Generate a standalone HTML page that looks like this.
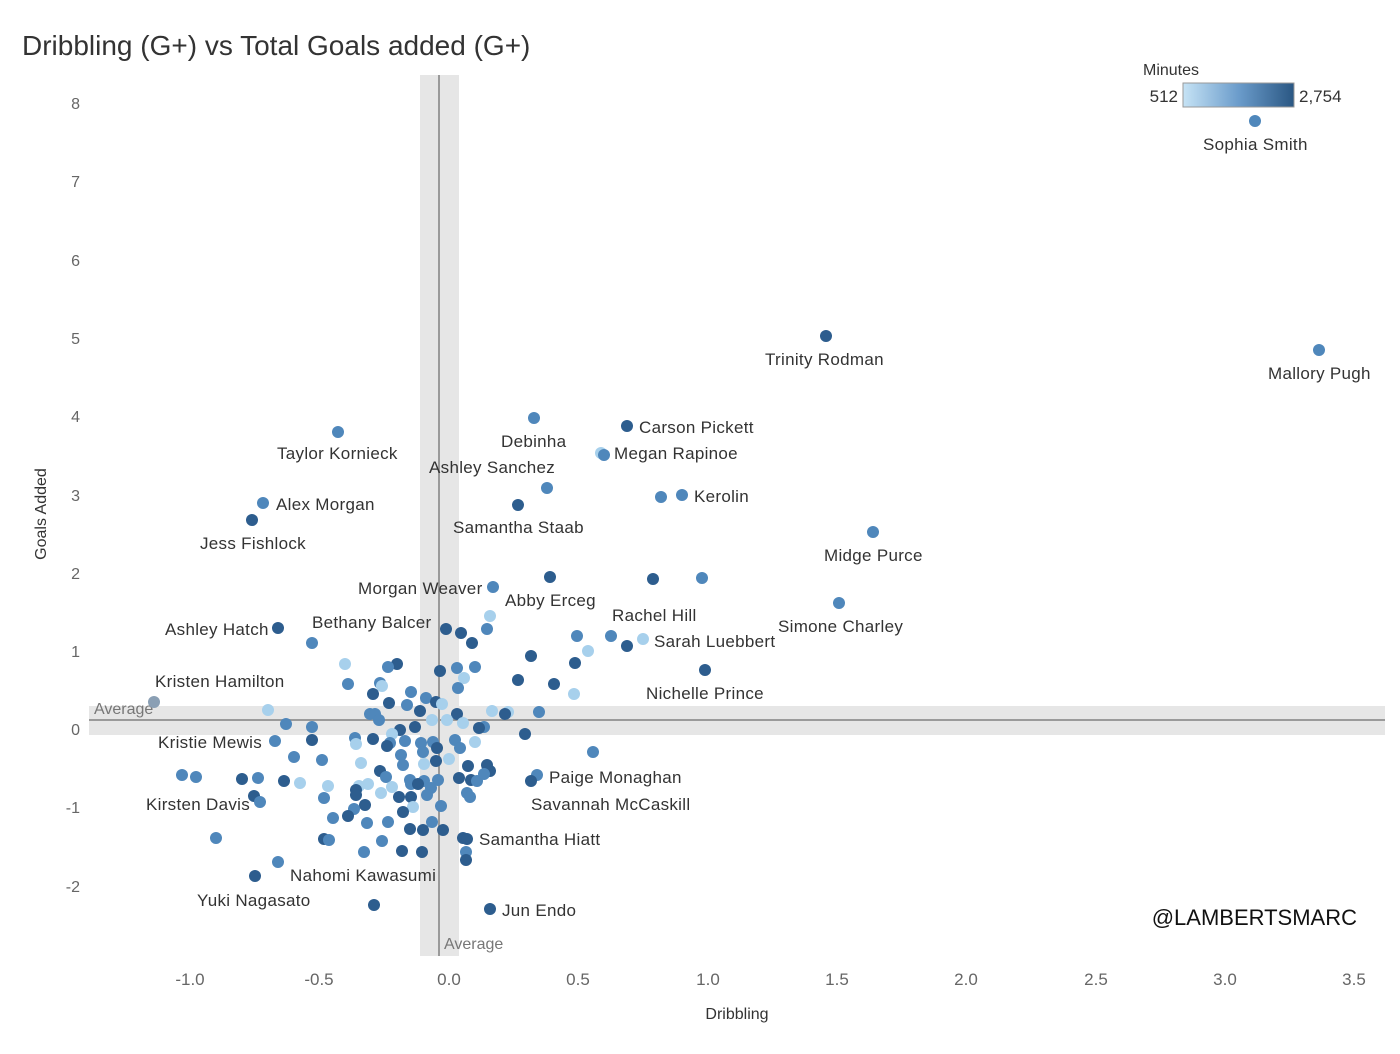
<!DOCTYPE html>
<html><head><meta charset="utf-8"><style>
body{margin:0;background:#fff;}
svg text{font-family:"Liberation Sans","DejaVu Sans",sans-serif;}
.d{fill:#2d5d8e}.m{fill:#4f87bb}.l{fill:#a7d0ec}.g{fill:#8a9fb4}
</style></head><body>
<svg width="1400" height="1049" xmlns="http://www.w3.org/2000/svg">
<defs><linearGradient id="g" x1="0" x2="1"><stop offset="0" stop-color="#c6e3f5"/><stop offset="0.5" stop-color="#6b9ccb"/><stop offset="1" stop-color="#2a5783"/></linearGradient></defs>
<text x="22" y="55" font-size="28" fill="#333">Dribbling (G+) vs Total Goals added (G+)</text>
<rect x="420" y="75" width="39" height="881" fill="#e6e6e6"/>
<rect x="89" y="706" width="1296" height="29" fill="#e6e6e6"/>
<line x1="439" y1="75" x2="439" y2="956" stroke="#9a9a9a" stroke-width="2"/>
<line x1="89" y1="720" x2="1385" y2="720" stroke="#9a9a9a" stroke-width="2"/>
<text x="94" y="714" font-size="16" fill="#777">Average</text>
<text x="444" y="949" font-size="16" fill="#777">Average</text>
<g font-size="16" fill="#666" text-anchor="end">
<text x="80" y="109">8</text><text x="80" y="187">7</text><text x="80" y="266">6</text><text x="80" y="344">5</text>
<text x="80" y="422">4</text><text x="80" y="501">3</text><text x="80" y="579">2</text><text x="80" y="657">1</text>
<text x="80" y="735">0</text><text x="80" y="813">-1</text><text x="80" y="892">-2</text>
</g>
<g font-size="17" fill="#666" text-anchor="middle">
<text x="190" y="985">-1.0</text><text x="319" y="985">-0.5</text><text x="449" y="985">0.0</text><text x="578" y="985">0.5</text>
<text x="708" y="985">1.0</text><text x="837" y="985">1.5</text><text x="966" y="985">2.0</text><text x="1096" y="985">2.5</text>
<text x="1225" y="985">3.0</text><text x="1354" y="985">3.5</text>
</g>
<text x="737" y="1019" font-size="16" fill="#333" text-anchor="middle">Dribbling</text>
<text transform="translate(46,514) rotate(-90)" font-size="16" fill="#333" text-anchor="middle">Goals Added</text>
<text x="1143" y="75" font-size="16" fill="#333">Minutes</text>
<rect x="1183" y="83" width="111" height="24" fill="url(#g)" stroke="#999"/>
<text x="1178" y="102" font-size="17" fill="#333" text-anchor="end">512</text>
<text x="1299" y="102" font-size="17" fill="#333">2,754</text>
<text x="1357" y="925" font-size="22" fill="#111" text-anchor="end">@LAMBERTSMARC</text>
<g>
<circle class="m" r="6" cx="1255" cy="121"/><circle class="d" r="6" cx="826" cy="336"/><circle class="m" r="6" cx="1319" cy="350"/><circle class="d" r="6" cx="627" cy="426"/><circle class="m" r="6" cx="534" cy="418"/><circle class="m" r="6" cx="338" cy="432"/><circle class="l" r="6" cx="601" cy="453"/><circle class="m" r="6" cx="604" cy="455"/><circle class="m" r="6" cx="661" cy="497"/><circle class="m" r="6" cx="682" cy="495"/><circle class="m" r="6" cx="547" cy="488"/><circle class="m" r="6" cx="263" cy="503"/><circle class="d" r="6" cx="518" cy="505"/><circle class="d" r="6" cx="252" cy="520"/><circle class="m" r="6" cx="873" cy="532"/><circle class="m" r="6" cx="493" cy="587"/><circle class="d" r="6" cx="550" cy="577"/><circle class="d" r="6" cx="653" cy="579"/><circle class="m" r="6" cx="702" cy="578"/><circle class="m" r="6" cx="839" cy="603"/><circle class="l" r="6" cx="490" cy="616"/><circle class="m" r="6" cx="487" cy="629"/><circle class="d" r="6" cx="446" cy="629"/><circle class="d" r="6" cx="461" cy="633"/><circle class="d" r="6" cx="472" cy="643"/><circle class="d" r="6" cx="278" cy="628"/><circle class="m" r="6" cx="312" cy="643"/><circle class="m" r="6" cx="577" cy="636"/><circle class="m" r="6" cx="611" cy="636"/><circle class="l" r="6" cx="643" cy="639"/><circle class="d" r="6" cx="627" cy="646"/><circle class="l" r="6" cx="588" cy="651"/><circle class="d" r="6" cx="531" cy="656"/><circle class="d" r="6" cx="575" cy="663"/><circle class="d" r="6" cx="705" cy="670"/><circle class="l" r="6" cx="345" cy="664"/><circle class="d" r="6" cx="397" cy="664"/><circle class="m" r="6" cx="388" cy="667"/><circle class="m" r="6" cx="457" cy="668"/><circle class="m" r="6" cx="475" cy="667"/><circle class="d" r="6" cx="440" cy="671"/><circle class="l" r="6" cx="464" cy="678"/><circle class="d" r="6" cx="518" cy="680"/><circle class="d" r="6" cx="554" cy="684"/><circle class="m" r="6" cx="348" cy="684"/><circle class="g" r="6" cx="154" cy="702"/><circle class="l" r="6" cx="268" cy="710"/><circle class="m" r="6" cx="380" cy="683"/><circle class="l" r="6" cx="382" cy="686"/><circle class="d" r="6" cx="373" cy="694"/><circle class="m" r="6" cx="411" cy="692"/><circle class="m" r="6" cx="458" cy="688"/><circle class="l" r="6" cx="574" cy="694"/><circle class="m" r="6" cx="426" cy="698"/><circle class="d" r="6" cx="436" cy="702"/><circle class="l" r="6" cx="442" cy="704"/><circle class="d" r="6" cx="389" cy="703"/><circle class="m" r="6" cx="407" cy="705"/><circle class="l" r="6" cx="492" cy="711"/><circle class="l" r="6" cx="508" cy="712"/><circle class="m" r="6" cx="539" cy="712"/><circle class="d" r="6" cx="505" cy="714"/><circle class="m" r="6" cx="370" cy="714"/><circle class="m" r="6" cx="375" cy="714"/><circle class="d" r="6" cx="457" cy="714"/><circle class="d" r="6" cx="420" cy="711"/><circle class="m" r="6" cx="286" cy="724"/><circle class="m" r="6" cx="312" cy="727"/><circle class="m" r="6" cx="379" cy="720"/><circle class="l" r="6" cx="432" cy="720"/><circle class="l" r="6" cx="447" cy="720"/><circle class="l" r="6" cx="463" cy="723"/><circle class="m" r="6" cx="484" cy="727"/><circle class="d" r="6" cx="479" cy="728"/><circle class="d" r="6" cx="415" cy="727"/><circle class="d" r="6" cx="400" cy="730"/><circle class="l" r="6" cx="392" cy="734"/><circle class="d" r="6" cx="525" cy="734"/><circle class="m" r="6" cx="355" cy="738"/><circle class="d" r="6" cx="373" cy="739"/><circle class="m" r="6" cx="275" cy="741"/><circle class="d" r="6" cx="312" cy="740"/><circle class="m" r="6" cx="433" cy="742"/><circle class="m" r="6" cx="421" cy="743"/><circle class="m" r="6" cx="405" cy="741"/><circle class="m" r="6" cx="390" cy="743"/><circle class="m" r="6" cx="455" cy="740"/><circle class="l" r="6" cx="475" cy="742"/><circle class="d" r="6" cx="387" cy="746"/><circle class="l" r="6" cx="356" cy="744"/><circle class="d" r="6" cx="437" cy="748"/><circle class="m" r="6" cx="460" cy="748"/><circle class="m" r="6" cx="593" cy="752"/><circle class="m" r="6" cx="401" cy="755"/><circle class="m" r="6" cx="423" cy="752"/><circle class="m" r="6" cx="294" cy="757"/><circle class="m" r="6" cx="322" cy="760"/><circle class="l" r="6" cx="361" cy="763"/><circle class="l" r="6" cx="449" cy="759"/><circle class="d" r="6" cx="436" cy="761"/><circle class="d" r="6" cx="468" cy="766"/><circle class="d" r="6" cx="487" cy="765"/><circle class="d" r="6" cx="490" cy="771"/><circle class="l" r="6" cx="424" cy="764"/><circle class="d" r="6" cx="380" cy="771"/><circle class="m" r="6" cx="403" cy="765"/><circle class="m" r="6" cx="182" cy="775"/><circle class="m" r="6" cx="196" cy="777"/><circle class="d" r="6" cx="242" cy="779"/><circle class="m" r="6" cx="258" cy="778"/><circle class="m" r="6" cx="537" cy="775"/><circle class="d" r="6" cx="284" cy="781"/><circle class="l" r="6" cx="300" cy="783"/><circle class="l" r="6" cx="359" cy="786"/><circle class="l" r="6" cx="368" cy="784"/><circle class="m" r="6" cx="386" cy="777"/><circle class="m" r="6" cx="410" cy="780"/><circle class="m" r="6" cx="424" cy="781"/><circle class="m" r="6" cx="438" cy="780"/><circle class="m" r="6" cx="411" cy="784"/><circle class="d" r="6" cx="418" cy="784"/><circle class="m" r="6" cx="431" cy="788"/><circle class="d" r="6" cx="459" cy="778"/><circle class="d" r="6" cx="471" cy="780"/><circle class="m" r="6" cx="477" cy="781"/><circle class="m" r="6" cx="484" cy="774"/><circle class="d" r="6" cx="531" cy="781"/><circle class="l" r="6" cx="328" cy="786"/><circle class="d" r="6" cx="356" cy="790"/><circle class="l" r="6" cx="392" cy="787"/><circle class="l" r="6" cx="381" cy="793"/><circle class="d" r="6" cx="356" cy="795"/><circle class="d" r="6" cx="399" cy="797"/><circle class="m" r="6" cx="427" cy="795"/><circle class="d" r="6" cx="411" cy="797"/><circle class="m" r="6" cx="467" cy="793"/><circle class="m" r="6" cx="470" cy="797"/><circle class="d" r="6" cx="254" cy="796"/><circle class="m" r="6" cx="260" cy="802"/><circle class="m" r="6" cx="324" cy="798"/><circle class="d" r="6" cx="365" cy="805"/><circle class="m" r="6" cx="354" cy="809"/><circle class="l" r="6" cx="413" cy="807"/><circle class="d" r="6" cx="403" cy="812"/><circle class="m" r="6" cx="441" cy="806"/><circle class="d" r="6" cx="348" cy="816"/><circle class="m" r="6" cx="333" cy="818"/><circle class="m" r="6" cx="388" cy="822"/><circle class="m" r="6" cx="432" cy="822"/><circle class="m" r="6" cx="367" cy="823"/><circle class="d" r="6" cx="410" cy="829"/><circle class="d" r="6" cx="423" cy="830"/><circle class="d" r="6" cx="443" cy="830"/><circle class="m" r="6" cx="216" cy="838"/><circle class="d" r="6" cx="324" cy="839"/><circle class="m" r="6" cx="329" cy="840"/><circle class="m" r="6" cx="382" cy="841"/><circle class="d" r="6" cx="463" cy="838"/><circle class="d" r="6" cx="467" cy="839"/><circle class="m" r="6" cx="466" cy="852"/><circle class="m" r="6" cx="364" cy="852"/><circle class="d" r="6" cx="402" cy="851"/><circle class="d" r="6" cx="422" cy="852"/><circle class="d" r="6" cx="466" cy="860"/><circle class="m" r="6" cx="278" cy="862"/><circle class="d" r="6" cx="255" cy="876"/><circle class="d" r="6" cx="374" cy="905"/><circle class="d" r="6" cx="490" cy="909"/>
</g>
<g font-size="17" fill="#333" letter-spacing="0.3">
<text x="1203" y="150">Sophia Smith</text>
<text x="765" y="365">Trinity Rodman</text>
<text x="1268" y="379">Mallory Pugh</text>
<text x="639" y="433">Carson Pickett</text>
<text x="501" y="447">Debinha</text>
<text x="277" y="459">Taylor Kornieck</text>
<text x="614" y="459">Megan Rapinoe</text>
<text x="429" y="473">Ashley Sanchez</text>
<text x="694" y="502">Kerolin</text>
<text x="276" y="510">Alex Morgan</text>
<text x="453" y="533">Samantha Staab</text>
<text x="200" y="549">Jess Fishlock</text>
<text x="824" y="561">Midge Purce</text>
<text x="358" y="594">Morgan Weaver</text>
<text x="505" y="606">Abby Erceg</text>
<text x="612" y="621">Rachel Hill</text>
<text x="312" y="628">Bethany Balcer</text>
<text x="778" y="632">Simone Charley</text>
<text x="165" y="635">Ashley Hatch</text>
<text x="654" y="647">Sarah Luebbert</text>
<text x="155" y="687">Kristen Hamilton</text>
<text x="646" y="699">Nichelle Prince</text>
<text x="158" y="748">Kristie Mewis</text>
<text x="549" y="783">Paige Monaghan</text>
<text x="146" y="810">Kirsten Davis</text>
<text x="531" y="810">Savannah McCaskill</text>
<text x="479" y="845">Samantha Hiatt</text>
<text x="290" y="881">Nahomi Kawasumi</text>
<text x="197" y="906">Yuki Nagasato</text>
<text x="502" y="916">Jun Endo</text>
</g>
</svg>
</body></html>
